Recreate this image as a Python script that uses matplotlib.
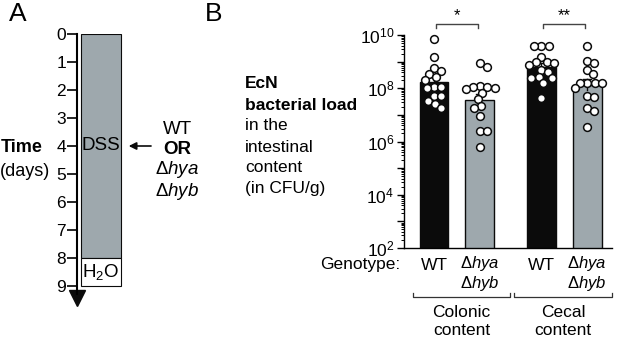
import matplotlib
matplotlib.use('Agg')
import matplotlib.pyplot as plt
import numpy as np
from matplotlib.ticker import FixedLocator, NullFormatter, FuncFormatter

plt.rcParams['font.family'] = ['Liberation Sans', 'DejaVu Sans']
plt.rcParams['mathtext.fontset'] = 'custom'
plt.rcParams['mathtext.rm'] = 'Liberation Sans'
plt.rcParams['mathtext.it'] = 'Liberation Sans:italic'
plt.rcParams['mathtext.bf'] = 'Liberation Sans:bold'

# ---- data ----
# panel A: treatment timeline (days)
days = list(range(10))
dss_period = (0, 8)
water_period = (8, 9)

# panel B: log10 CFU/g, one value per mouse
colonic_wt = [9.85, 9.18, 8.75, 8.66, 8.53, 8.43, 8.31, 8.06, 8.06, 8.00,
              7.71, 7.71, 7.53, 7.41, 7.26]
colonic_ko = [8.94, 8.81, 8.08, 8.03, 8.03, 8.00, 7.96, 7.81, 7.58, 7.33,
              7.24, 6.95, 6.40, 6.40, 5.80]
cecal_wt = [9.60, 9.60, 9.60, 9.18, 9.00, 9.00, 8.95, 8.87, 8.68, 8.62,
            8.42, 8.40, 8.38, 8.21, 7.64]
cecal_ko = [9.59, 9.03, 8.94, 8.68, 8.52, 8.21, 8.21, 8.21, 8.21, 8.00,
            7.71, 7.66, 7.24, 7.15, 6.55]
groups = [colonic_wt, colonic_ko, cecal_wt, cecal_ko]
genotypes = ['WT', 'KO', 'WT', 'KO']
sites = ['Colonic\ncontent', 'Cecal\ncontent']
signif = ['*', '**']

W, H = 617, 340
BLACK = '#0b0b0b'
GREY = '#9ea8ad'
FS = 12.5


def fx(x):
    return x / W


def fy(y):
    return 1 - y / H


fig = plt.figure(figsize=(W / 100, H / 100), dpi=100)

# ================= panel A =================
ax_a = fig.add_axes([fx(77), fy(308.4), 48 / W, (308.4 - 34) / H])
ax_a.set_xlim(0, 1)
ax_a.set_ylim(9.8, 0)
ax_a.bar(0.5, dss_period[1] - dss_period[0], bottom=dss_period[0], width=0.833,
         color=GREY, edgecolor=BLACK, lw=0.8)
ax_a.bar(0.5, water_period[1] - water_period[0], bottom=water_period[0],
         width=0.833, color='white', edgecolor=BLACK, lw=0.8)
for s in ['top', 'right', 'bottom']:
    ax_a.spines[s].set_visible(False)
ax_a.spines['left'].set_bounds(0, 9.3)
ax_a.spines['left'].set_linewidth(1.5)
ax_a.plot([0], [9.42], marker='v', ms=11, color=BLACK, clip_on=False)
ax_a.set_xticks([])
ax_a.set_yticks(days)
ax_a.tick_params(axis='y', length=7, width=1.2, pad=1, labelsize=12.5)
ax_a.text(0.5, 4, 'DSS', ha='center', va='center', fontsize=13.5)
ax_a.text(0.5, 8.5, 'H$_2$O', ha='center', va='center', fontsize=13.5)
ax_a.annotate('', xy=(1.02, 4), xytext=(1.6, 4),
              arrowprops=dict(arrowstyle='-|>', color=BLACK, lw=1.2,
                              mutation_scale=11), annotation_clip=False)

fig.text(fx(9), fy(14), 'A', fontsize=19, va='center', ha='left')
fig.text(fx(1), fy(148), 'Time', fontsize=13, fontweight='bold', va='center')
fig.text(fx(0), fy(172), '(days)', fontsize=13, va='center')
fig.text(fx(177), fy(129), 'WT', fontsize=13.5, ha='center', va='center')
fig.text(fx(177), fy(150), 'OR', fontsize=13.5, fontweight='bold',
         ha='center', va='center')
fig.text(fx(177), fy(170), 'Δ$\\mathit{hya}$', fontsize=13.5, ha='center', va='center')
fig.text(fx(177), fy(191), 'Δ$\\mathit{hyb}$', fontsize=13.5, ha='center', va='center')

# ================= panel B =================
ax = fig.add_axes([fx(404), fy(248), 208 / W, (248 - 35) / H])
pos = np.array([0, 1, 2.33, 3.33])
ax.set_xlim(-0.652, 3.87)
ax.set_yscale('log')
ax.set_ylim(1e2, 1e10)

means = [np.mean(g) for g in groups]
sems = [np.std(g, ddof=1) / np.sqrt(len(g)) for g in groups]
colors = [BLACK, GREY, BLACK, GREY]
ax.bar(pos, [10 ** m for m in means], width=0.63, color=colors,
       edgecolor=BLACK, lw=1.0, zorder=2)
for p, m, s in zip(pos, means, sems):
    ax.plot([p, p], [10 ** (m - s), 10 ** (m + s)], color=BLACK, lw=1.0, zorder=2.5)
    ax.plot([p - 0.08, p + 0.08], [10 ** (m + s)] * 2, color=BLACK, lw=1.0, zorder=2.5)

# simple beeswarm computed in display pixels
fig.canvas.draw()
D = 7.4
for p, g in zip(pos, groups):
    vals = sorted(g, reverse=True)
    xc, _ = ax.transData.transform((p, 1e5))
    placed = []
    xs = []
    for v in vals:
        _, yd = ax.transData.transform((p, 10 ** v))
        cands = [0.0]
        for (px_, py_) in placed:
            dy = yd - py_
            if abs(dy) < D:
                dx = np.sqrt(D ** 2 - dy ** 2)
                cands += [px_ + dx, px_ - dx]
        cands = sorted(cands, key=abs)
        for c in cands:
            ok = all((c - a) ** 2 + (yd - b) ** 2 >= D ** 2 - 1e-6 for a, b in placed)
            if ok:
                break
        placed.append((c, yd))
        xs.append(ax.transData.inverted().transform((xc + c, yd))[0])
    ax.plot(xs, [10 ** v for v in vals], 'o', ms=5.6, mfc='white', mec=BLACK,
            mew=1.1, zorder=3, clip_on=False)

ax.spines['top'].set_visible(False)
ax.spines['right'].set_visible(False)
ax.spines['left'].set_linewidth(1.0)
ax.spines['bottom'].set_linewidth(1.0)
ax.set_xticks([])
decades = [10.0 ** k for k in range(2, 11)]
ax.yaxis.set_major_locator(FixedLocator(decades))
ax.yaxis.set_major_formatter(FuncFormatter(
    lambda v, _: '$10^{%d}$' % round(np.log10(v)) if round(np.log10(v)) % 2 == 0 else ''))
minors = [m * 10.0 ** k for k in range(2, 10) for m in range(2, 10)]
ax.yaxis.set_minor_locator(FixedLocator(minors))
ax.yaxis.set_minor_formatter(NullFormatter())
ax.tick_params(axis='y', which='major', length=5, width=1.0, labelsize=12.5, pad=2)
ax.tick_params(axis='y', which='minor', length=2.5, width=0.7)

# significance brackets
for i, s in enumerate(signif):
    a, b = pos[2 * i] + 0.04, pos[2 * i + 1] - 0.04
    ax.plot([a, a, b, b], [10 ** 10.26, 10 ** 10.41, 10 ** 10.41, 10 ** 10.26],
            color='#444444', lw=1.0, clip_on=False)
    ax.text((a + b) / 2, 10 ** 10.45, s, ha='center', va='bottom', fontsize=12)

fig.text(fx(205), fy(14), 'B', fontsize=19, va='center', ha='left')
left_lines = [('EcN', 'bold'), ('bacterial load', 'bold'), ('in the', 'normal'),
              ('intestinal', 'normal'), ('content', 'normal'), ('(in CFU/g)', 'normal')]
for k, (t, w) in enumerate(left_lines):
    fig.text(fx(245), fy(84 + 21 * k), t, fontsize=FS, fontweight=w, va='center')

# genotype labels
fig.text(fx(400), fy(265), 'Genotype:', fontsize=FS, ha='right', va='center')
tr = ax.get_xaxis_transform()
for p, gname in zip(pos, genotypes):
    if gname == 'WT':
        ax.text(p, -0.08, 'WT', transform=tr, ha='center', va='center',
                fontsize=FS, clip_on=False)
    else:
        ax.text(p, -0.075, 'Δ$\\mathit{hya}$', transform=tr, ha='center',
                va='center', fontsize=12, clip_on=False)
        ax.text(p, -0.165, 'Δ$\\mathit{hyb}$', transform=tr, ha='center',
                va='center', fontsize=12, clip_on=False)

# site brackets
for i, site in enumerate(sites):
    if i == 0:
        a, b = fx(413), fx(510)
    else:
        a, b = fx(514), fx(612)
    fig.add_artist(plt.Line2D([a, a, b, b], [fy(292.5), fy(297), fy(297), fy(292.5)],
                              color='#333333', lw=0.9))
    fig.text((a + b) / 2, fy(305), site, fontsize=FS, ha='center', va='top',
             linespacing=1.25)

fig.savefig('out.png', dpi=100)
